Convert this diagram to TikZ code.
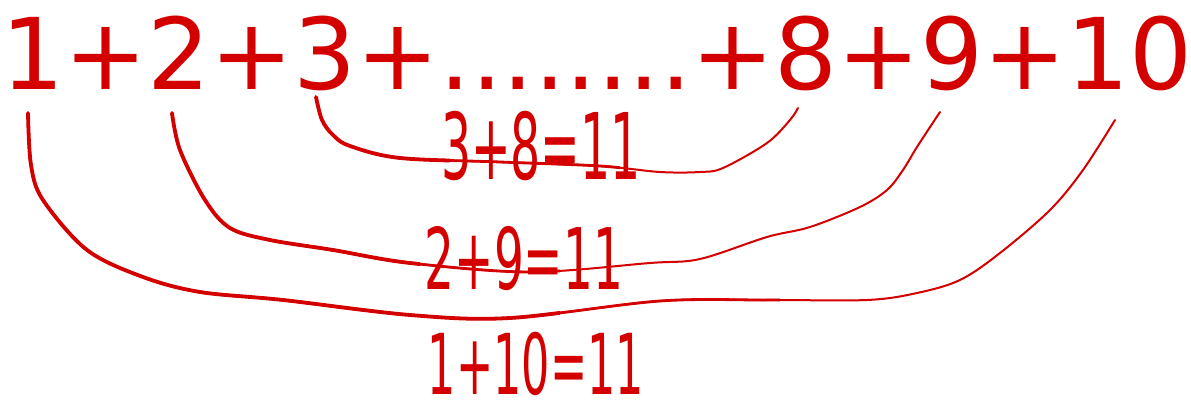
\documentclass[tikz,border=0pt]{standalone}
\usepackage{fontspec}
\setmainfont{DejaVu Sans}
\usepackage{graphicx}
\definecolor{sumred}{RGB}{212,0,0}
\newcommand{\sumdots}{........}
% the three hand drawn arcs
\newcommand{\arcone}{plot[smooth, tension=0.55] coordinates {(a1) (31,165) (43,200) (87,250) (143,277) (200,292) (283,300) (410,315) (510,318) (660,301) (767,300) (867,300) (917,293) (960,280) (1000,253) (1050,210) (1083,170) (b1)}}
\newcommand{\arctwo}{plot[smooth, tension=0.55] coordinates {(a2) (180,150) (205,200) (230,228) (270,240) (333,250) (410,263) (530,272) (650,263) (700,259) (767,237) (810,227) (860,207) (887,190) (903,170) (917,147) (b2)}}
\newcommand{\arcthree}{plot[smooth, tension=0.55] coordinates {(a3) (322,120) (333,135) (350,146) (400,158) (500,162) (600,166) (660,172) (700,172) (723,168) (767,143) (790,120) (b3)}}

\begin{document}
\begin{tikzpicture}[x=0.5pt, y=-0.5pt,
  every node/.style={sumred, inner sep=0pt, outer sep=0pt},
  term/.style={anchor=base west, font=\fontsize{49.5}{50}\selectfont},
  pair/.style={anchor=base},
  arcline/.style={sumred, line width=#1, line cap=round, line join=round}]
  \useasboundingbox (0,0) rectangle (1191,401);
  % the row 1+2+3+...+10
  \node[term] (t1) at (2,90) {1};
  \foreach \term [count=\i from 2, remember=\i as \j (initially 1)] in {+,2,+,3,+,\sumdots,+,8,+,9,+,10}
    \node[term] (t\i) at (t\j.base east) {\term};
  % the pair sums
  \node[pair, font=\fontsize{46}{46}\selectfont] (s38) at (541,180) {\scalebox{0.515}[1]{3+8=11}};
  \node[pair, font=\fontsize{42.5}{43}\selectfont] (s29) at (524,290) {\scalebox{0.553}[1]{2+9=11}};
  \node[pair, font=\fontsize{42}{43}\selectfont] (s110) at (536,394) {\scalebox{0.53}[1]{1+10=11}};
  % hand drawn arcs, thick on the left, thin on the right
  \coordinate (a1) at (28,113);  \coordinate (b1) at (1115,120);
  \coordinate (a2) at (172,113); \coordinate (b2) at (940,112);
  \coordinate (a3) at (316,97);  \coordinate (b3) at (798,108);
  \draw[arcline=1pt] \arcone;
  \draw[arcline=1pt] \arctwo;
  \draw[arcline=1pt] \arcthree;
  \begin{scope}
    \clip (0,0) rectangle (780,401);
    \draw[arcline=1.4pt] \arcone;
  \end{scope}
  \begin{scope}
    \clip (0,0) rectangle (560,401);
    \draw[arcline=1.9pt] \arcone;
  \end{scope}
  \begin{scope}
    \clip (0,0) rectangle (560,401);
    \draw[arcline=1.4pt] \arctwo;
  \end{scope}
  \begin{scope}
    \clip (0,0) rectangle (420,401);
    \draw[arcline=1.9pt] \arctwo;
  \end{scope}
  \begin{scope}
    \clip (0,0) rectangle (620,401);
    \draw[arcline=1.4pt] \arcthree;
  \end{scope}
  \begin{scope}
    \clip (0,0) rectangle (450,401);
    \draw[arcline=1.9pt] \arcthree;
  \end{scope}
\end{tikzpicture}
\end{document}
